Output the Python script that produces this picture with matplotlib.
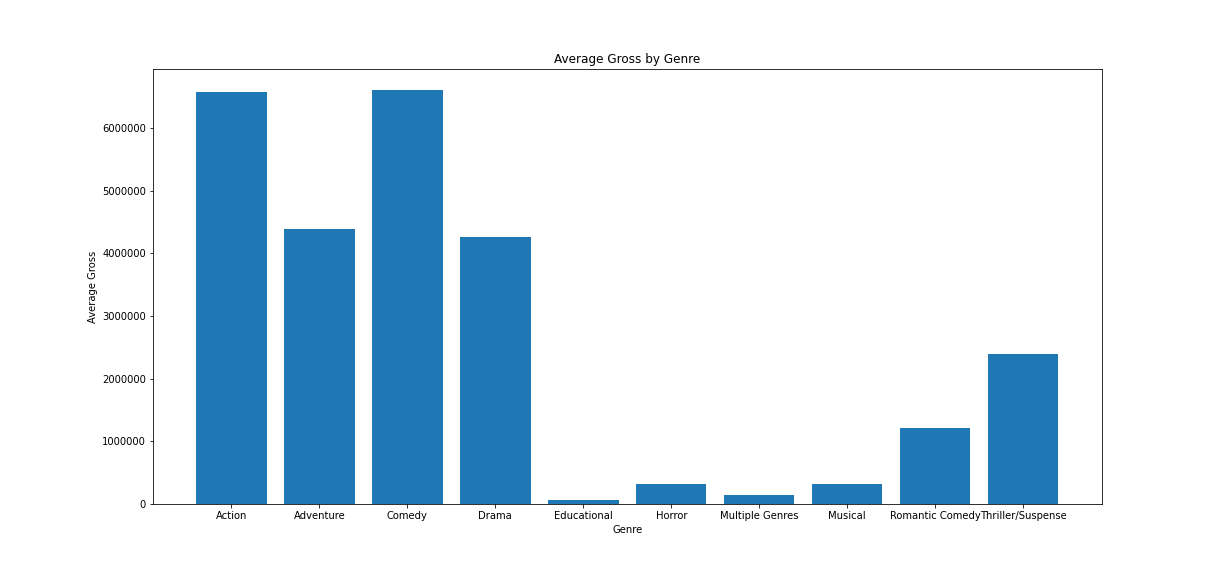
import matplotlib
matplotlib.use("Agg")
import matplotlib.pyplot as plt

genres = ["Action", "Adventure", "Comedy", "Drama", "Educational", "Horror",
          "Multiple Genres", "Musical", "Romantic Comedy", "Thriller/Suspense"]
avg_gross = [6574000, 4388000, 6606000, 4260000, 64000, 320000,
             144000, 320000, 1213000, 2393000]

fig = plt.figure(figsize=(17, 8), dpi=72)
ax = fig.add_axes([0.125, 0.125, 0.775, 0.755])
ax.bar(genres, avg_gross, color="#1f77b4")
ax.ticklabel_format(axis="y", style="plain", useOffset=False)
ax.set_title("Average Gross by Genre")
ax.set_xlabel("Genre")
ax.set_ylabel("Average Gross")
fig.savefig("out.png", dpi=72)
